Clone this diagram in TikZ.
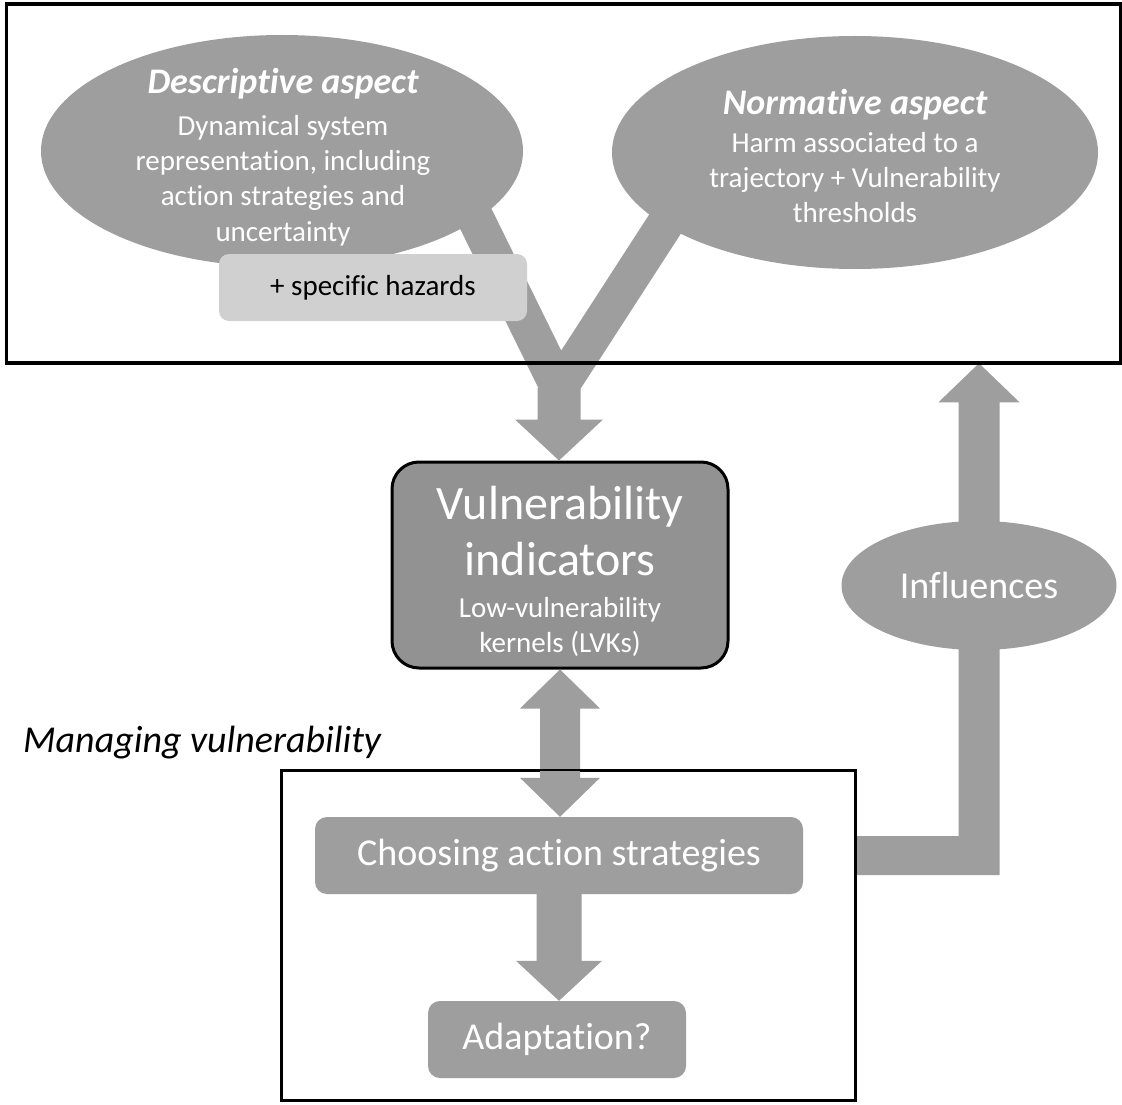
\documentclass[tikz,border=0pt]{standalone}
\usepackage{fontspec}
\setmainfont{Carlito}[Ligatures={NoCommon}]
\usetikzlibrary{shapes.geometric,calc}
\definecolor{shapegray}{HTML}{9E9E9E}
\definecolor{boxgray}{HTML}{929292}
\definecolor{hazgray}{HTML}{D0D0D0}
% block arrow pointing down: #1 from, #2 tip, #3 shaft width, #4 head width, #5 head length
\newcommand\blockdown[5]{%
  \fill[shapegray] let \p1=(#1), \p2=(#2) in
   ({\x1-#3pt/2},\y1) -- ({\x1+#3pt/2},\y1) -- ({\x1+#3pt/2},{\y2+#5pt})
   -- ({\x1+#4pt/2},{\y2+#5pt}) -- (\x1,\y2) -- ({\x1-#4pt/2},{\y2+#5pt})
   -- ({\x1-#3pt/2},{\y2+#5pt}) -- cycle;}
% double block arrow: #1 top tip, #2 bottom tip
\newcommand\blockboth[5]{%
  \fill[shapegray] let \p1=(#1), \p2=(#2) in
   (\x1,\y1) -- ({\x1+#4pt/2},{\y1-#5pt}) -- ({\x1+#3pt/2},{\y1-#5pt})
   -- ({\x1+#3pt/2},{\y2+#5pt}) -- ({\x1+#4pt/2},{\y2+#5pt}) -- (\x1,\y2)
   -- ({\x1-#4pt/2},{\y2+#5pt}) -- ({\x1-#3pt/2},{\y2+#5pt})
   -- ({\x1-#3pt/2},{\y1-#5pt}) -- ({\x1-#4pt/2},{\y1-#5pt}) -- cycle;}
\tikzset{
  bubble/.style={ellipse, fill=shapegray, draw=none, inner sep=0pt},
  graybox/.style={rectangle, rounded corners=12pt, fill=shapegray, draw=none, inner sep=0pt,
     text=white, font=\fontsize{38}{46}\selectfont},
  wt/.style={text=white, inner sep=0pt, align=center, font=\fontsize{29}{35.4}\selectfont},
  frame/.style={rectangle, draw=black, fill=none, inner sep=0pt},
}
\newcommand\ttlfont{\fontsize{36}{40}\selectfont\bfseries\itshape}
\begin{document}
\begin{tikzpicture}[x=1pt, y=-1pt]
\useasboundingbox (0,0) rectangle (1122,1105);
\fill[white] (0,0) rectangle (1122,1105);

% coordinates of the Y-shaped connector
\coordinate (J) at (559,388);
\coordinate (dsrc) at (440,146);
\coordinate (nsrc) at (700,170);

% stems of the Y
\draw[shapegray, line width=37pt, line join=miter, line cap=butt] (dsrc) -- (J) -- (nsrc);

% nodes (shapes)
\node[bubble, minimum width=482pt, minimum height=232pt] (desc) at (282,151) {};
\node[bubble, minimum width=486pt, minimum height=233pt] (norm) at (855,152.5) {};
\node[rectangle, rounded corners=10pt, fill=hazgray, minimum width=308pt, minimum height=67pt,
      inner sep=0pt, font=\fontsize{29}{35}\selectfont] (haz) at (373,287.5) {\raisebox{-3pt}{+ specific hazards}};

\node[rectangle, rounded corners=27pt, fill=boxgray, draw=black, line width=3pt,
      minimum width=336pt, minimum height=206pt, inner sep=0pt] (vul) at (560,565) {};
\node[graybox, minimum width=488pt, minimum height=77pt] (choose) at (559,855.5) {Choosing action strategies};
\node[graybox, minimum width=258pt, minimum height=77pt] (adapt) at (557,1039.5) {Adaptation?};

\node[frame, line width=2.5pt, minimum width=1113pt, minimum height=357pt] (topframe) at (563.5,183.5) {};
\node[frame, line width=2pt, minimum width=573pt, minimum height=329pt] (manage) at (568.5,935.5) {};

% block arrows
\blockdown{J}{vul.north}{43}{88}{41}
\blockboth{vul.south}{choose.north}{40}{80}{39}
\blockdown{choose.south}{adapt.north}{45}{86}{40}
\fill[shapegray] let \p1=(manage.east |- choose.center), \p2=(979,585), \p3=(topframe.south -| 979,585) in
  (\x1,{\y1+19.5pt}) -- ({\x2-20.5pt},{\y1+19.5pt}) -- ({\x2-20.5pt},{\y3-39pt})
  -- ({\x2-40.5pt},{\y3-39pt}) -- (\x2,\y3) -- ({\x2+40.5pt},{\y3-39pt})
  -- ({\x2+20.5pt},{\y3-39pt}) -- ({\x2+20.5pt},{\y1-19.5pt}) -- (\x1,{\y1-19.5pt}) -- cycle;
\node[bubble, minimum width=275pt, minimum height=129pt, text=white,
      font=\fontsize{38}{46}\selectfont] (influ) at (979,585.5) {\raisebox{-3pt}{Influences}};

% redraw frames on top of the arrows
\draw[line width=2.5pt] (topframe.south west) rectangle (topframe.north east);
\draw[line width=2pt] (manage.south west) rectangle (manage.north east);

% texts
\node[wt] (desct) at (283,157) {{\ttlfont Descriptive aspect}\\[6.6pt]Dynamical system\\representation, including\\action strategies and\\uncertainty};
\node[wt] (normt) at (855,156) {{\ttlfont Normative aspect}\\[2.6pt]Harm associated to a\\trajectory + Vulnerability\\thresholds};
\node[wt, font=\fontsize{48}{56}\selectfont] (vult) at (560,531) {Vulnerability\\indicators};
\node[wt] (vuls) at (560,627) {Low-vulnerability\\kernels (LVKs)};
\node[anchor=base west, inner sep=0pt, font=\fontsize{38}{44}\selectfont\itshape] (mtitle) at (23,752) {Managing vulnerability};
\end{tikzpicture}
\end{document}
